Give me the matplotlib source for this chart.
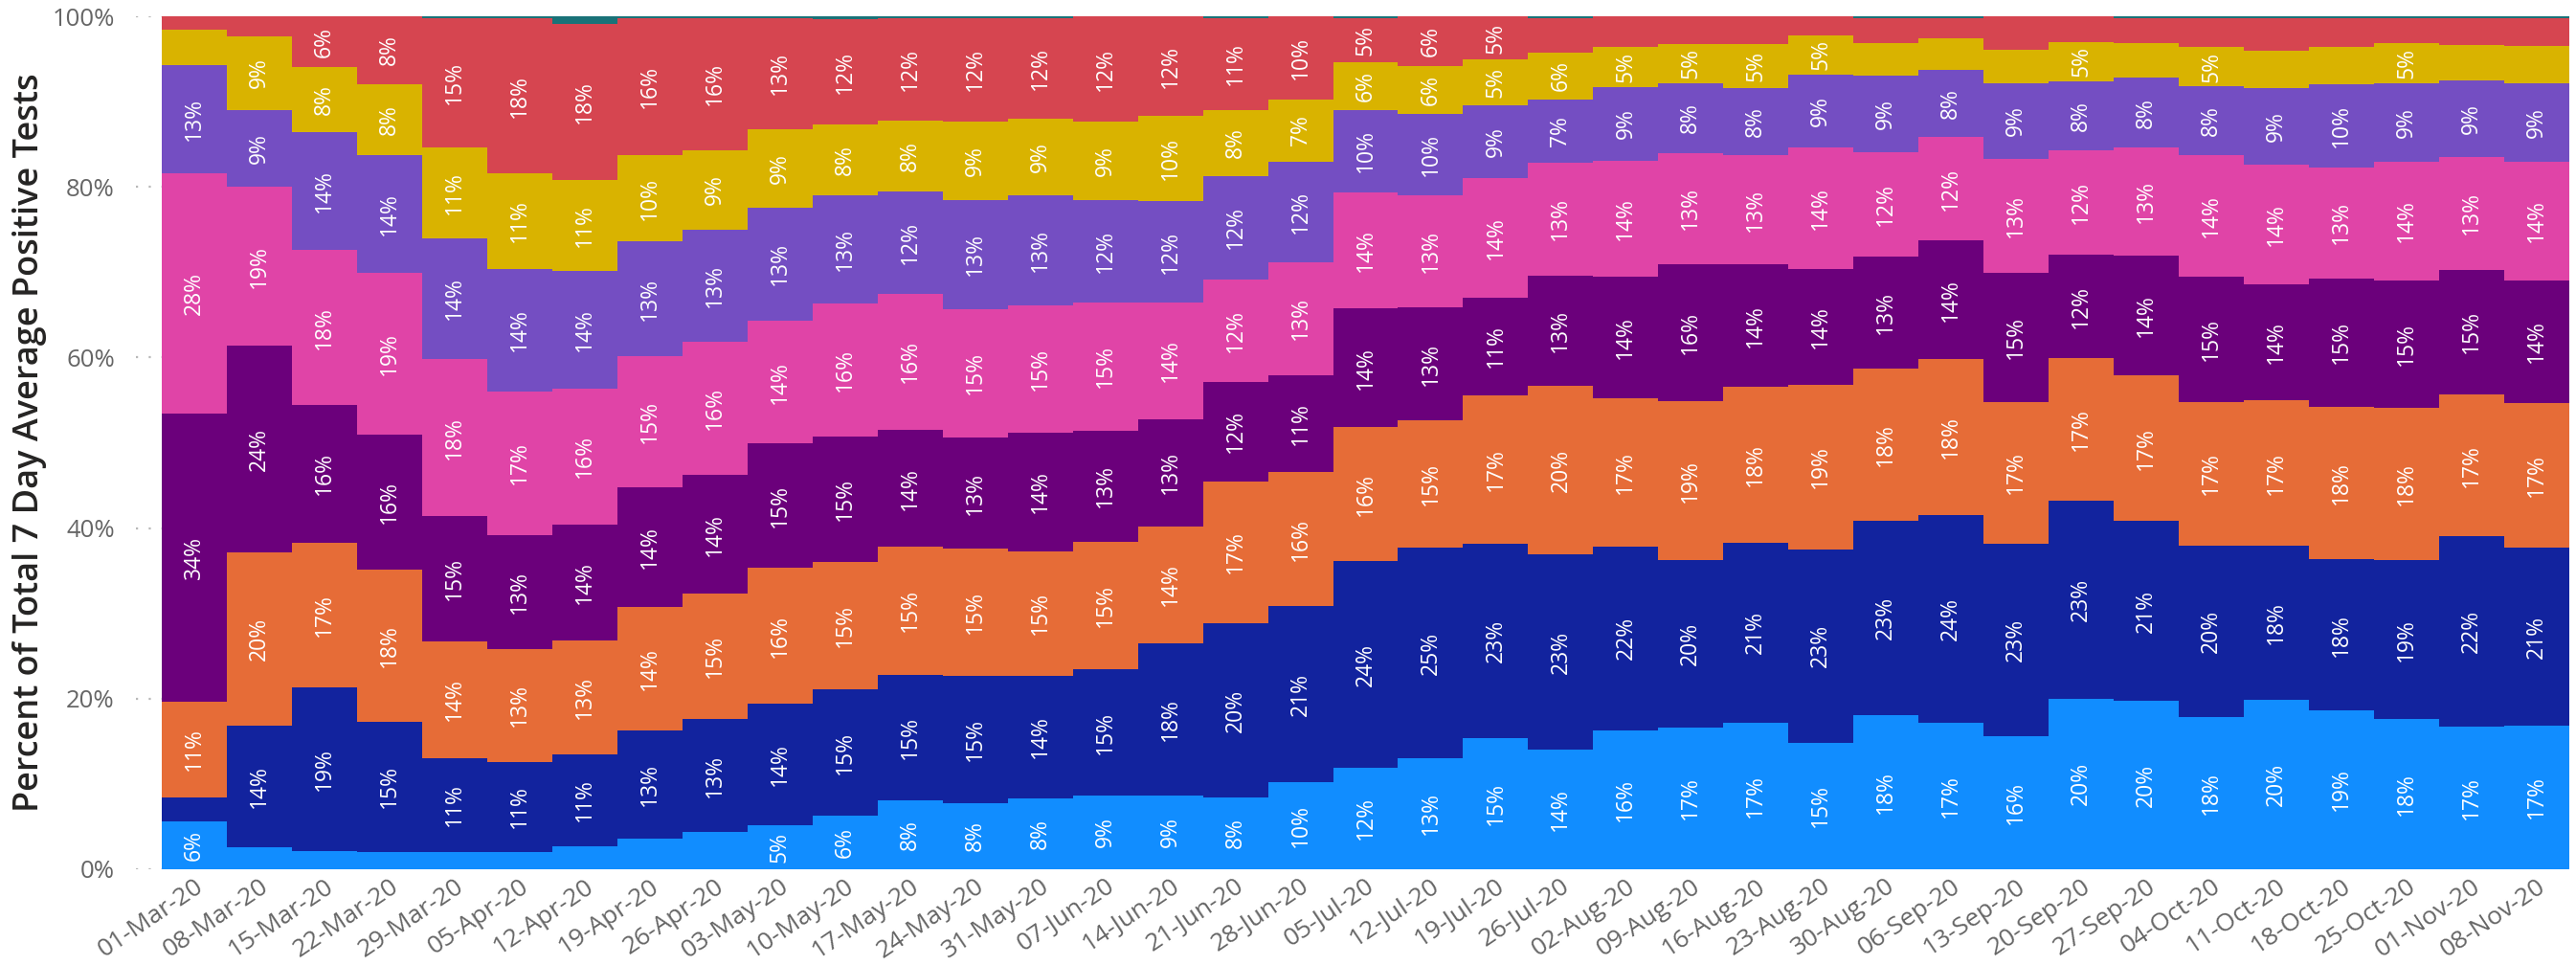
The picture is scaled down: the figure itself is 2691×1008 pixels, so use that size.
import matplotlib.pyplot as plt
import numpy as np

plt.rcParams['font.family'] = ['Open Sans', 'DejaVu Sans']

WEEKS = [
    "01-Mar-20", "08-Mar-20", "15-Mar-20", "22-Mar-20", "29-Mar-20",
    "05-Apr-20", "12-Apr-20", "19-Apr-20", "26-Apr-20", "03-May-20",
    "10-May-20", "17-May-20", "24-May-20", "31-May-20", "07-Jun-20",
    "14-Jun-20", "21-Jun-20", "28-Jun-20", "05-Jul-20", "12-Jul-20",
    "19-Jul-20", "26-Jul-20", "02-Aug-20", "09-Aug-20", "16-Aug-20",
    "23-Aug-20", "30-Aug-20", "06-Sep-20", "13-Sep-20", "20-Sep-20",
    "27-Sep-20", "04-Oct-20", "11-Oct-20", "18-Oct-20", "25-Oct-20",
    "01-Nov-20", "08-Nov-20",
]

# share of positive tests per age band, percent (bottom to top)
AGE_0_9 = [5.6, 2.6, 2.1, 2.0, 2.0, 2.0, 2.7, 3.6, 4.3, 5.1, 6.2, 8.0, 7.7, 8.3, 8.6, 8.6, 8.4, 10.2, 11.9,
           13.0, 15.4, 14.0, 16.3, 16.6, 17.2, 14.8, 18.0, 17.2, 15.6, 20.0, 19.7, 17.8, 19.8, 18.6, 17.6,
           16.7, 16.8]
AGE_10_19 = [2.8, 14.2, 19.2, 15.3, 11.0, 10.6, 10.7, 12.7, 13.3, 14.3, 14.9, 14.8, 14.9, 14.4, 14.8, 17.9,
             20.4, 20.6, 24.2, 24.7, 22.8, 22.9, 21.5, 19.6, 21.1, 22.7, 22.8, 24.3, 22.6, 23.2, 21.1, 20.1,
             18.1, 17.7, 18.6, 22.3, 20.9]
AGE_20_29 = [11.2, 20.3, 17.0, 17.8, 13.7, 13.2, 13.4, 14.4, 14.7, 15.9, 14.9, 15.0, 15.0, 14.6, 15.0, 13.7,
             16.7, 15.8, 15.7, 14.9, 17.4, 19.8, 17.4, 18.7, 18.3, 19.3, 17.9, 18.3, 16.6, 16.7, 17.1, 16.9,
             17.1, 17.9, 17.9, 16.7, 17.0]
AGE_30_39 = [33.8, 24.3, 16.1, 15.8, 14.7, 13.4, 13.6, 14.1, 13.9, 14.6, 14.7, 13.7, 13.0, 13.9, 13.0, 12.6,
             11.6, 11.3, 14.0, 13.3, 11.4, 12.9, 14.3, 16.1, 14.3, 13.6, 13.2, 13.9, 15.1, 12.2, 14.1, 14.7,
             13.6, 15.1, 14.9, 14.6, 14.3]
AGE_40_49 = [28.2, 18.6, 18.2, 19.0, 18.4, 16.8, 16.0, 15.4, 15.6, 14.4, 15.6, 16.0, 15.1, 14.9, 15.1, 13.6,
             12.1, 13.3, 13.6, 13.1, 14.0, 13.3, 13.6, 13.0, 12.8, 14.2, 12.2, 12.2, 13.4, 12.2, 12.6, 14.3,
             14.0, 13.0, 14.0, 13.2, 14.0]
AGE_50_59 = [12.7, 9.0, 13.8, 13.8, 14.2, 14.4, 13.8, 13.4, 13.2, 13.3, 12.7, 12.0, 12.8, 12.9, 12.0, 12.0,
             12.1, 11.8, 9.6, 9.6, 8.6, 7.4, 8.6, 8.2, 7.9, 8.6, 9.0, 7.8, 8.9, 8.1, 8.2, 8.0, 9.0, 9.8, 9.2,
             9.0, 9.2]
AGE_60_69 = [4.2, 8.7, 7.7, 8.4, 10.6, 11.2, 10.6, 10.1, 9.3, 9.2, 8.3, 8.3, 9.2, 9.0, 9.2, 9.9, 7.7, 7.3,
             5.6, 5.6, 5.4, 5.5, 4.7, 4.6, 5.2, 4.6, 3.8, 3.7, 3.9, 4.6, 4.1, 4.6, 4.4, 4.3, 4.7, 4.2, 4.4]
AGE_70_79 = [1.5, 2.3, 5.9, 7.9, 15.2, 18.2, 18.35, 16.15, 15.55, 13.05, 12.35, 12.05, 12.15, 11.85, 12.3,
             11.7, 10.85, 9.7, 5.25, 5.8, 5.0, 4.05, 3.6, 3.2, 3.2, 2.2, 2.95, 2.45, 3.9, 3.0, 2.95, 3.45,
             3.85, 3.45, 2.95, 3.15, 3.25]
AGE_80_PLUS = [0, 0, 0, 0, 0.2, 0.2, 0.85, 0.15, 0.15, 0.15, 0.35, 0.15, 0.15, 0.15, 0, 0, 0.15, 0, 0.15, 0,
               0, 0.15, 0, 0, 0, 0, 0.15, 0.15, 0, 0, 0.15, 0.15, 0.15, 0.15, 0.15, 0.15, 0.15]

SERIES = [AGE_0_9, AGE_10_19, AGE_20_29, AGE_30_39, AGE_40_49, AGE_50_59, AGE_60_69, AGE_70_79, AGE_80_PLUS]
COLORS = ["#118DFF", "#12239E", "#E66C37", "#6B007B", "#E044A7", "#744EC2", "#D9B300", "#D64550", "#197278"]
LABEL_MIN = 4.5

W, H = 2691, 1008
fig = plt.figure(figsize=(W / 100, H / 100), dpi=100)
left, right, y0, y100 = 142, 2688, 907.7, 17.3
ax = fig.add_axes([left / W, 1 - y0 / H, (right - left) / W, (y0 - y100) / H])

x = np.arange(len(WEEKS))
bottom = np.zeros(len(WEEKS))
for vals, color in zip(SERIES, COLORS):
    vals = np.array(vals, dtype=float)
    ax.bar(x, vals, width=1.0, bottom=bottom, color=color, linewidth=0, zorder=2)
    for xi, v, b in zip(x, vals, bottom):
        if v >= LABEL_MIN:
            ax.text(xi, b + v / 2, f"{v:.0f}%", rotation=90, ha="center", va="center",
                    color="white", fontsize=16.5, zorder=3)
    bottom += vals

bar_px = (2684 - 169) / len(WEEKS)
ax.set_xlim(-0.5 - (169 - left) / bar_px, len(WEEKS) - 0.5 + (right - 2684) / bar_px)
ax.set_ylim(0, 100)

ax.set_yticks(range(0, 101, 20))
ax.set_yticklabels([f"{t}%" for t in range(0, 101, 20)])
ax.grid(axis="y", linestyle=(0, (1, 5)), color="#B8B8B8", linewidth=1.6, zorder=0)
ax.set_axisbelow(True)

ax.set_xticks(x)
ax.set_xticklabels(WEEKS, rotation=34, ha="right", va="top", rotation_mode="anchor")
ax.tick_params(axis="both", length=0, labelcolor="#666666")
ax.tick_params(axis="y", pad=16, labelsize=18.5)
ax.tick_params(axis="x", pad=4, labelsize=19)
for spine in ax.spines.values():
    spine.set_visible(False)

ax.set_ylabel("Percent of Total 7 Day Average Positive Tests", fontsize=26,
              fontweight="semibold", color="#252423")
ax.yaxis.set_label_coords(-0.0365, 0.5)

fig.savefig("out.png", dpi=100)
